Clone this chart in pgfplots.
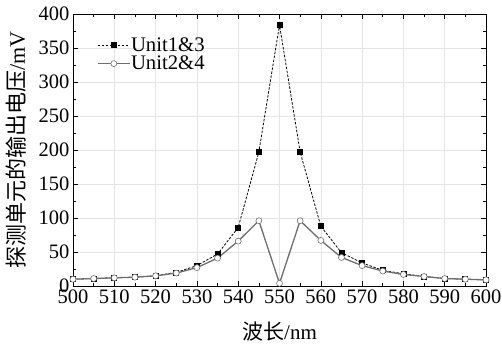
\documentclass[border=0pt]{standalone}
\usepackage{pgfplots}
\pgfplotsset{compat=1.18}
\usepackage{fontspec}
\setmainfont{Liberation Serif}
\newfontfamily\cjk{Noto Sans CJK SC}
\definecolor{lgray}{RGB}{110,110,110}
\begin{document}
\begin{tikzpicture}
\begin{axis}[
  scale only axis,
  width=413pt, height=272pt,
  xmin=500, xmax=600, ymin=0, ymax=400,
  xtick={500,510,...,600}, ytick={0,50,...,400},
  minor x tick num=1, minor y tick num=1,
  tick align=inside,
  major tick length=5pt, minor tick length=3pt,
  grid=major, grid style={gray!20, line width=0.5pt},
  axis line style={line width=0.8pt},
  tick style={black, line width=0.6pt},
  xticklabel style={font=\fontsize{20.5}{22}\selectfont},
  yticklabel style={font=\fontsize{20.5}{22}\selectfont},
  /pgf/number format/assume math mode=true,
  xlabel={{\cjk 波长}/nm}, ylabel={{\cjk 探测单元的输出电压}/mV},
  xlabel style={font=\fontsize{21}{22}\selectfont, at={(axis description cs:0.5,-0.168)}, anchor=center},
  ylabel style={font=\fontsize{22}{24}\selectfont, at={(axis description cs:-0.137,0.5)}, anchor=center},
  legend style={draw=none, fill=none, at={(rel axis cs:0,1)}, anchor=north west, xshift=24pt, yshift=-23pt,
    inner sep=0pt, font=\fontsize{20.7}{22}\selectfont, row sep=2pt, nodes={inner sep=0.5pt}},
  legend cell align=left,
  legend image code/.code={\draw[mark repeat=2,mark phase=2,#1] plot coordinates {(0pt,0pt) (16pt,0pt) (32pt,0pt)};},
]
\addplot[black, dash pattern=on 2.5pt off 1.5pt, line width=0.8pt, mark=square*, mark size=2.5pt, mark options={solid, fill=black}]
coordinates {(500,10)(505,11)(510,12)(515,13)(520,15)(525,20)(530,30)(535,47)(540,86)(545,197)(550,384)(555,197)(560,88)(565,49)(570,34)(575,23)(580,18)(585,14)(590,11)(595,10)(600,9)};
\addlegendentry{Unit1\&3}
\addplot[lgray, line width=1.3pt, mark=*, mark size=3pt, mark options={solid, fill=white, draw=lgray, line width=0.6pt}]
coordinates {(500,10)(505,11)(510,12)(515,13)(520,15)(525,19)(530,27)(535,41)(540,66)(545,96)(550,4)(555,96)(560,67)(565,42)(570,30)(575,22)(580,17)(585,14)(590,11)(595,10)(600,9)};
\addlegendentry{Unit2\&4}
\end{axis}
\pgfresetboundingbox
\path[use as bounding box] ([xshift=-73pt,yshift=-57pt]current axis.south west) rectangle ([xshift=16pt,yshift=14pt]current axis.north east);
\end{tikzpicture}
\end{document}
